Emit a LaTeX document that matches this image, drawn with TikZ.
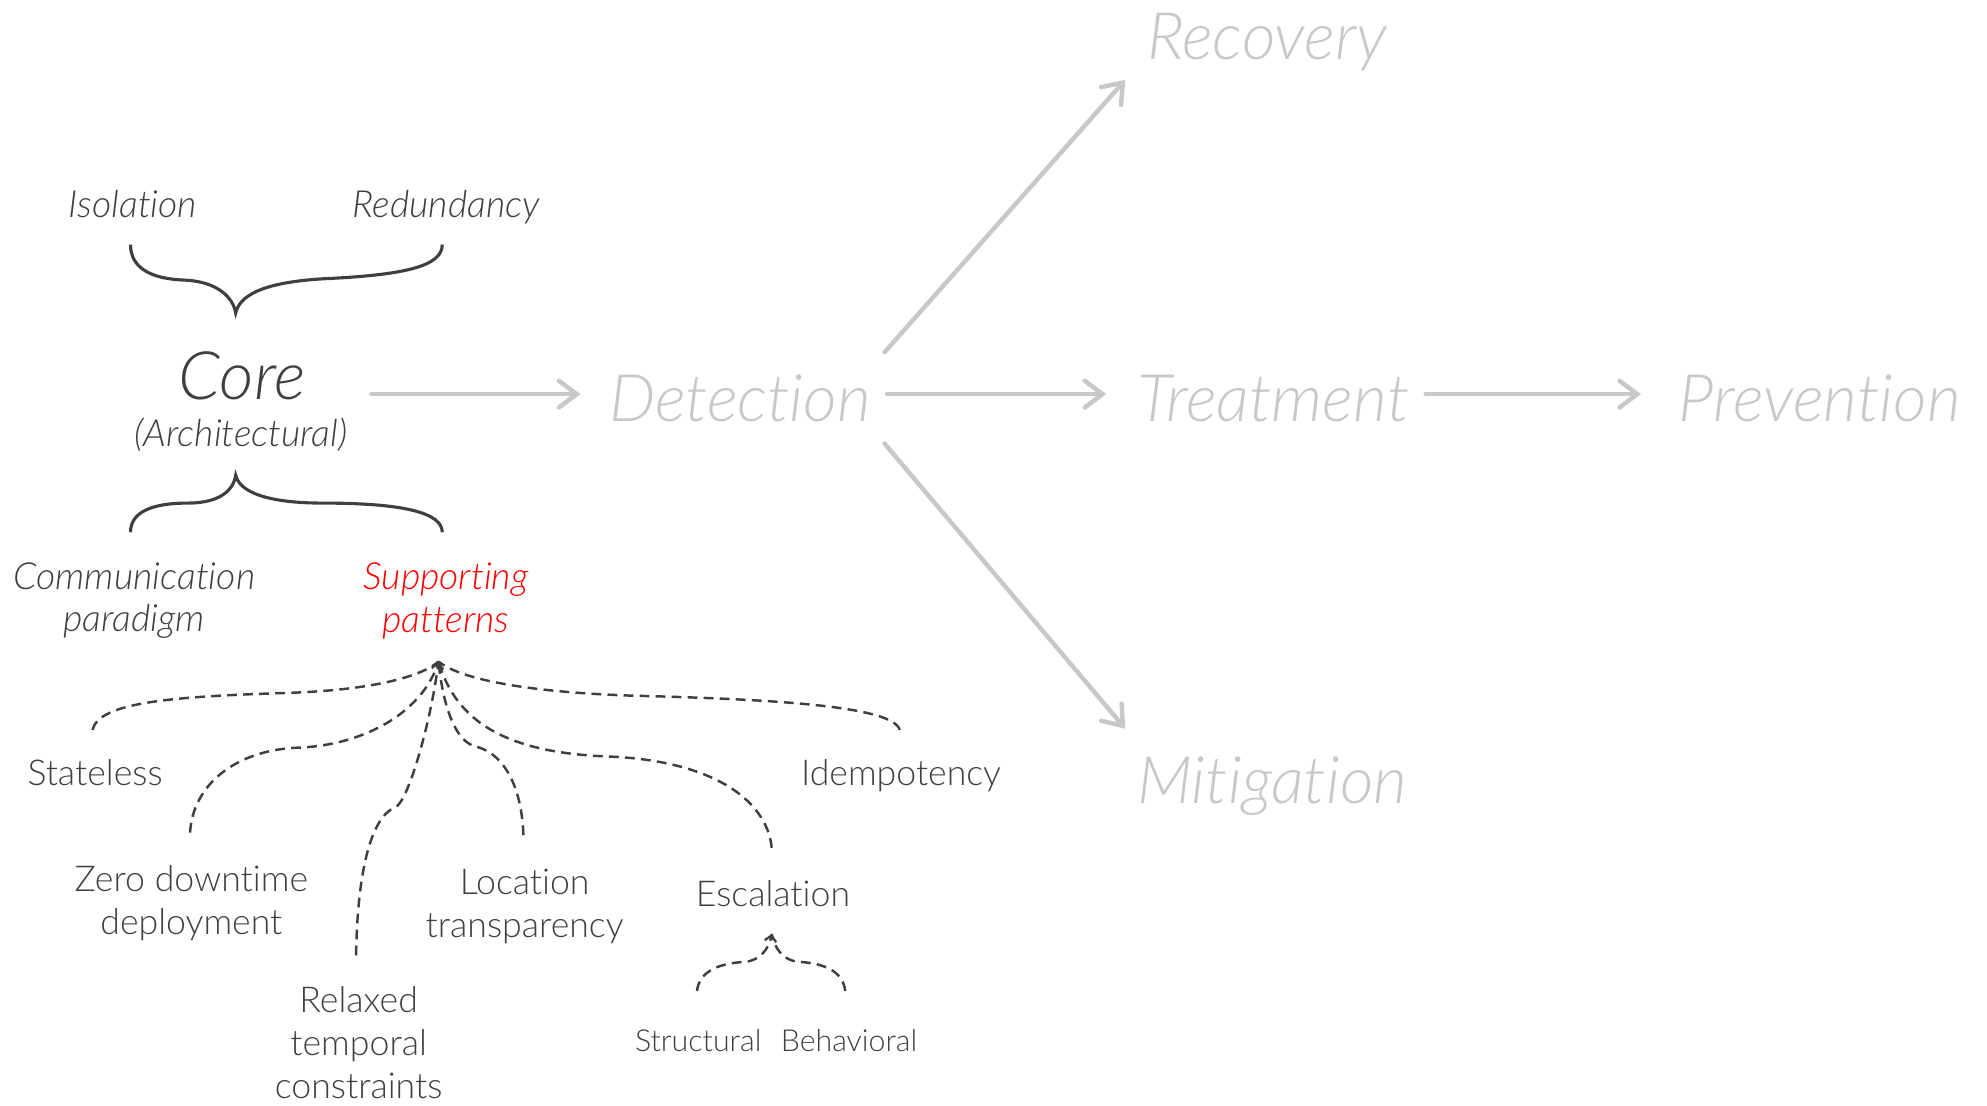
\documentclass[tikz,border=0pt]{standalone}
\usepackage{fontspec}
\setmainfont{Lato}[UprightFont={* Light},ItalicFont={* Light Italic},Ligatures={NoCommon}]
\usetikzlibrary{arrows.meta}

\definecolor{ink}{HTML}{3F3F3F}
\definecolor{pale}{HTML}{C8C8C8}
\definecolor{accent}{HTML}{FF0000}

\tikzset{
  lbl/.style={inner sep=0pt, anchor=base, text=ink, align=center,
    font=\fontsize{8}{9.6}\selectfont},
  mlbl/.style={lbl, anchor=center},
  ilbl/.style={lbl, font=\fontsize{8.4}{9.6}\selectfont\itshape},
  milbl/.style={ilbl, anchor=center},
  tiny/.style={lbl, font=\fontsize{6.8}{8}\selectfont},
  big/.style={inner sep=0pt, anchor=base, text=pale,
    font=\fontsize{14.7}{18}\selectfont\itshape},
  brace/.style={draw=ink, line width=0.7pt},
  flow/.style={draw=pale, line width=1pt, line cap=round,
    -{Straight Barb[length=4pt,width=6pt,line cap=round]}},
  treeline/.style={draw=ink, line width=0.55pt, dash pattern=on 2.2pt off 1.4pt},
  hubtip/.style={-{Straight Barb[length=1.3pt,width=2.6pt,line width=0.5pt]}}
}

\begin{document}
\begin{tikzpicture}[x=0.01cm,y=-0.01cm]
\useasboundingbox (0,0) rectangle (1568,872);

% architectural core and its brace groups
\node[ilbl] (iso) at (105,172) {Isolation};
\node[ilbl] (red) at (352,172) {Redundancy};
\node[big, text=ink, font=\fontsize{15}{18}\selectfont\itshape] (core) at (191,315) {Core};
\node[ilbl] (arch) at (190,352) {(Architectural)};
\node[milbl] (comm) at (106,474) {Communication\\paradigm};
\node[milbl, text=accent] (supp) at (352,474) {Supporting\\patterns};

% failure-handling stages
\node[big] (detect) at (584,333) {Detection};
\node[big] (treat) at (1005,333) {Treatment};
\node[big] (prev) at (1436,333) {Prevention};
\node[big] (recov) at (1000,47) {Recovery};
\node[big] (mitig) at (1004,634) {Mitigation};

% supporting patterns
\node[lbl] (stateless) at (75,620) {Stateless};
\node[lbl] (idem) at (711,620) {Idempotency};
\node[mlbl] (zero) at (151,713) {Zero downtime\\deployment};
\node[mlbl] (loc) at (414,715) {Location\\transparency};
\node[mlbl] (relax) at (283,823) {Relaxed\\temporal\\constraints};
\node[lbl] (esc) at (610,715) {Escalation};
\node[tiny] (struct) at (551,830) {Structural};
\node[tiny] (behav) at (670,830) {Behavioral};

% brace anchor points
\coordinate (tL) at (103,193);
\coordinate (tR) at (349,193);
\coordinate (tT) at (186,247);
\coordinate (bT) at (186,375);
\coordinate (bL) at (103,420);
\coordinate (bR) at (349,420);

\draw[brace] (tL) .. controls (103,212) and (120,220) .. (145,221)
  .. controls (172,222) and (184,235) .. (tT)
  .. controls (189,234) and (205,223) .. (255,220)
  .. controls (320,217) and (349,210) .. (tR);
\draw[brace] (bL) .. controls (103,404) and (120,397) .. (148,397)
  .. controls (172,397) and (184,388) .. (bT)
  .. controls (189,388) and (210,397) .. (255,397)
  .. controls (320,397) and (349,405) .. (bR);

% stage arrows
\draw[flow] ([shift={(102,-4)}]core.base) -- ([shift={(-126,-22)}]detect.base);
\draw[flow] ([shift={(116,-22)}]detect.base) -- ([shift={(-132,-22)}]treat.base);
\draw[flow] ([shift={(120,-22)}]treat.base) -- ([shift={(-141,-22)}]prev.base);
\draw[flow] ([shift={(114,-55)}]detect.base) -- ([shift={(-112,16)}]recov.base);
\draw[flow] ([shift={(114,17)}]detect.base) -- ([shift={(-116,-59)}]mitig.base);

% dashed pattern tree
\coordinate (hub) at (346,522);
\coordinate (sA) at (73,576);
\coordinate (sB) at (710,576);
\coordinate (sC) at (150,657);
\coordinate (sD) at (281,754);
\coordinate (sE) at (413,659);
\coordinate (sF) at (609,669);

\draw[treeline] (sA) .. controls (78,555) and (130,550) .. (220,547)
  .. controls (300,545) and (335,532) .. (hub);
\draw[treeline] (sB) .. controls (705,558) and (620,552) .. (500,549)
  .. controls (410,546) and (362,535) .. (hub);
\draw[treeline] (sC) .. controls (152,620) and (185,592) .. (235,590)
  .. controls (290,588) and (335,560) .. (hub);
\draw[treeline, hubtip] (sD) .. controls (282,690) and (292,645) .. (312,637)
  .. controls (322,633) and (340,570) .. (hub);
\draw[treeline] (sE) .. controls (412,625) and (400,595) .. (375,589)
  .. controls (360,585) and (350,560) .. (hub);
\draw[treeline] (sF) .. controls (605,630) and (560,600) .. (480,597)
  .. controls (400,594) and (360,570) .. (hub);

% escalation split
\coordinate (ehub) at (609,737);
\coordinate (eL) at (550,782);
\coordinate (eR) at (667,782);
\draw[treeline, hubtip] (eL) .. controls (552,765) and (570,760) .. (588,759)
  .. controls (600,758) and (607,748) .. (ehub);
\draw[treeline] (eR) .. controls (665,765) and (648,760) .. (630,759)
  .. controls (618,758) and (611,748) .. (ehub);
\end{tikzpicture}
\end{document}
